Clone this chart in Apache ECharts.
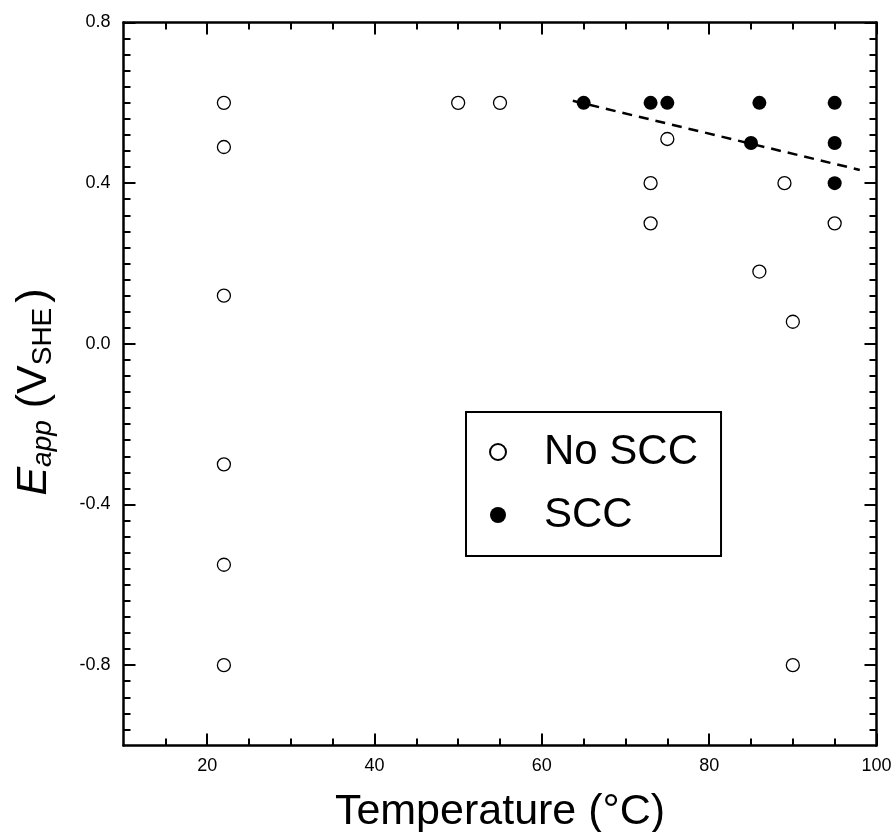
<!DOCTYPE html>
<html>
<head>
<meta charset="utf-8">
<script src="https://cdn.jsdelivr.net/npm/echarts@6/dist/echarts.min.js"></script>
<style>
  html, body { margin: 0; padding: 0; background: #fff; }
  #chart { width: 892px; height: 832px; }
</style>
</head>
<body>
<div id="chart"></div>
<script>
// Temperature (°C) and applied potential (V vs SHE) for specimens without cracking
const noSccTemp = [22, 22, 22, 22, 22, 22, 50, 55, 73, 73, 75, 86, 89, 90, 90, 95];
const noSccPot  = [0.60, 0.49, 0.12, -0.30, -0.55, -0.80, 0.60, 0.60, 0.40, 0.30, 0.51, 0.18, 0.40, 0.055, -0.80, 0.30];

// Specimens that showed stress corrosion cracking
const sccTemp = [65, 73, 75, 86, 85, 95, 95, 95];
const sccPot  = [0.60, 0.60, 0.60, 0.60, 0.50, 0.60, 0.50, 0.40];

// Dashed boundary line endpoints
const boundaryTemp = [63.7, 98.0];
const boundaryPot  = [0.605, 0.433];

// Axis ticks
const xMajorTicks = [20, 40, 60, 80, 100];
const xMinorTicks = [15, 25, 30, 35, 45, 50, 55, 65, 70, 75, 85, 90, 95];
const yMajorTicks = [-0.8, -0.4, 0.0, 0.4, 0.8];
const yMinorTicks = [];
for (let k = -24; k <= 19; k++) {
  const v = +(k * 0.04).toFixed(2);
  if (!yMajorTicks.some(m => Math.abs(m - v) < 1e-9)) yMinorTicks.push(v);
}

const FONT = 'Arial, "Liberation Sans", sans-serif';
const zip = (a, b) => a.map((v, i) => [v, b[i]]);

const chart = echarts.init(document.getElementById('chart'), null, { renderer: 'canvas' });

const lineStyle = { color: '#000', width: 2.5 };
const tickStyle = { color: '#000', width: 2 };

function xAx(position, major, showLine, showLabels) {
  return {
    type: 'value', position: position, min: 10, max: 100,
    axisLine: { show: showLine, onZero: false, lineStyle: lineStyle },
    axisTick: { show: true, inside: true, length: major ? 12 : 7,
                customValues: major ? xMajorTicks : xMinorTicks, lineStyle: tickStyle },
    axisLabel: showLabels
      ? { show: true, customValues: xMajorTicks, fontSize: 18, color: '#000', fontFamily: FONT, margin: 12 }
      : { show: false },
    splitLine: { show: false }
  };
}
function yAx(position, major, showLine, showLabels) {
  return {
    type: 'value', position: position, min: -1.0, max: 0.8,
    axisLine: { show: showLine, onZero: false, lineStyle: lineStyle },
    axisTick: { show: true, inside: true, length: major ? 12 : 7,
                customValues: major ? yMajorTicks : yMinorTicks, lineStyle: tickStyle },
    axisLabel: showLabels
      ? { show: true, customValues: yMajorTicks, fontSize: 18, color: '#000', fontFamily: FONT, margin: 13,
          formatter: v => v.toFixed(1) }
      : { show: false },
    splitLine: { show: false }
  };
}

const xMain = xAx('bottom', true, true, true);
xMain.name = 'Temperature (°C)';
xMain.nameLocation = 'middle';
xMain.nameGap = 45;
xMain.nameTextStyle = { fontSize: 43, color: '#000', fontFamily: FONT };

const yMain = yAx('left', true, true, true);
yMain.name = '{i|E}{isub|app}{n| (V}{sub|SHE}{rp|)}';
yMain.nameLocation = 'middle';
yMain.nameRotate = 90;
yMain.nameGap = 66;
yMain.nameTextStyle = {
  color: '#000', fontFamily: FONT,
  padding: [0, 16, 0, 0],
  rich: {
    i:    { fontSize: 43, fontStyle: 'italic', fontFamily: FONT, color: '#000', lineHeight: 47 },
    isub: { fontSize: 28, fontStyle: 'italic', fontFamily: FONT, color: '#000', verticalAlign: 'bottom' },
    n:    { fontSize: 43, fontFamily: FONT, color: '#000', lineHeight: 47 },
    rp:   { fontSize: 43, fontFamily: FONT, color: '#000', lineHeight: 47, padding: [0, 0, 0, 5] },
    sub:  { fontSize: 28, fontFamily: FONT, color: '#000', verticalAlign: 'bottom' }
  }
};

const option = {
  backgroundColor: '#fff',
  animation: false,
  grid: { left: 123.5, top: 22.5, width: 753, height: 723, containLabel: false, outerBoundsMode: 'none' },
  legend: {
    orient: 'vertical',
    left: 466, top: 412,
    data: ['No SCC', 'SCC'],
    itemWidth: 20, itemHeight: 16, itemGap: 21,
    padding: [19, 23, 20, 23],
    borderColor: '#000', borderWidth: 2,
    textStyle: { fontSize: 42, color: '#000', fontFamily: FONT, padding: [0, 0, 0, 31] },
    selectedMode: false
  },
  xAxis: [
    xMain,
    xAx('bottom', false, false, false),
    xAx('top', true, true, false),
    xAx('top', false, false, false)
  ],
  yAxis: [
    yMain,
    yAx('left', false, false, false),
    yAx('right', true, true, false),
    yAx('right', false, false, false)
  ],
  series: [
    {
      name: 'No SCC', type: 'scatter', xAxisIndex: 0, yAxisIndex: 0,
      symbol: 'circle', symbolSize: 13,
      itemStyle: { color: '#fff', borderColor: '#000', borderWidth: 1.3, opacity: 1 },
      data: zip(noSccTemp, noSccPot), z: 3
    },
    {
      name: 'SCC', type: 'scatter', xAxisIndex: 0, yAxisIndex: 0,
      symbol: 'circle', symbolSize: 14,
      itemStyle: { color: '#000', borderColor: '#000', borderWidth: 0, opacity: 1 },
      data: zip(sccTemp, sccPot), z: 4
    },
    {
      name: 'boundary', type: 'line', xAxisIndex: 0, yAxisIndex: 0,
      symbol: 'none', silent: true,
      lineStyle: { color: '#000', width: 2.5, type: [10, 7] },
      data: zip(boundaryTemp, boundaryPot), z: 2
    }
  ]
};

chart.setOption(option);
</script>
</body>
</html>
